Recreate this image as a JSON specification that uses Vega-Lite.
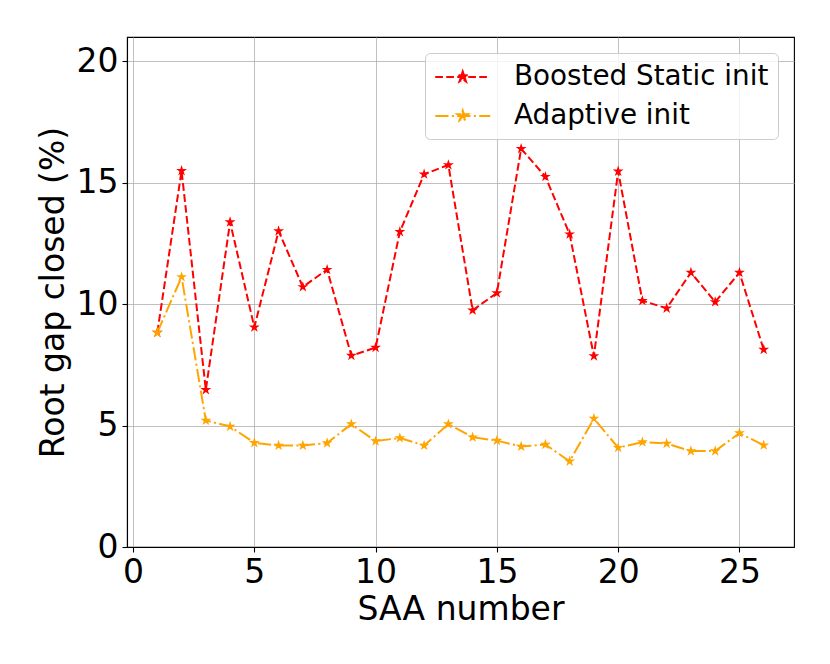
{
  "$schema": "https://vega.github.io/schema/vega-lite/v6.json",
  "width": 667,
  "height": 510,
  "autosize": {"type": "none"},
  "padding": {"left": 127, "top": 37, "right": 36, "bottom": 117},
  "background": "white",
  "data": {
    "values": [
      {"saa": 1, "gap": 8.83, "series": "Boosted Static init"},
      {"saa": 2, "gap": 15.49, "series": "Boosted Static init"},
      {"saa": 3, "gap": 6.47, "series": "Boosted Static init"},
      {"saa": 4, "gap": 13.38, "series": "Boosted Static init"},
      {"saa": 5, "gap": 9.05, "series": "Boosted Static init"},
      {"saa": 6, "gap": 13.01, "series": "Boosted Static init"},
      {"saa": 7, "gap": 10.71, "series": "Boosted Static init"},
      {"saa": 8, "gap": 11.42, "series": "Boosted Static init"},
      {"saa": 9, "gap": 7.88, "series": "Boosted Static init"},
      {"saa": 10, "gap": 8.21, "series": "Boosted Static init"},
      {"saa": 11, "gap": 12.98, "series": "Boosted Static init"},
      {"saa": 12, "gap": 15.35, "series": "Boosted Static init"},
      {"saa": 13, "gap": 15.73, "series": "Boosted Static init"},
      {"saa": 14, "gap": 9.75, "series": "Boosted Static init"},
      {"saa": 15, "gap": 10.46, "series": "Boosted Static init"},
      {"saa": 16, "gap": 16.40, "series": "Boosted Static init"},
      {"saa": 17, "gap": 15.25, "series": "Boosted Static init"},
      {"saa": 18, "gap": 12.88, "series": "Boosted Static init"},
      {"saa": 19, "gap": 7.86, "series": "Boosted Static init"},
      {"saa": 20, "gap": 15.47, "series": "Boosted Static init"},
      {"saa": 21, "gap": 10.14, "series": "Boosted Static init"},
      {"saa": 22, "gap": 9.83, "series": "Boosted Static init"},
      {"saa": 23, "gap": 11.30, "series": "Boosted Static init"},
      {"saa": 24, "gap": 10.09, "series": "Boosted Static init"},
      {"saa": 25, "gap": 11.30, "series": "Boosted Static init"},
      {"saa": 26, "gap": 8.13, "series": "Boosted Static init"},
      {"saa": 1, "gap": 8.83, "series": "Adaptive init"},
      {"saa": 2, "gap": 11.12, "series": "Adaptive init"},
      {"saa": 3, "gap": 5.21, "series": "Adaptive init"},
      {"saa": 4, "gap": 4.96, "series": "Adaptive init"},
      {"saa": 5, "gap": 4.29, "series": "Adaptive init"},
      {"saa": 6, "gap": 4.18, "series": "Adaptive init"},
      {"saa": 7, "gap": 4.18, "series": "Adaptive init"},
      {"saa": 8, "gap": 4.28, "series": "Adaptive init"},
      {"saa": 9, "gap": 5.06, "series": "Adaptive init"},
      {"saa": 10, "gap": 4.36, "series": "Adaptive init"},
      {"saa": 11, "gap": 4.49, "series": "Adaptive init"},
      {"saa": 12, "gap": 4.18, "series": "Adaptive init"},
      {"saa": 13, "gap": 5.06, "series": "Adaptive init"},
      {"saa": 14, "gap": 4.52, "series": "Adaptive init"},
      {"saa": 15, "gap": 4.38, "series": "Adaptive init"},
      {"saa": 16, "gap": 4.14, "series": "Adaptive init"},
      {"saa": 17, "gap": 4.22, "series": "Adaptive init"},
      {"saa": 18, "gap": 3.53, "series": "Adaptive init"},
      {"saa": 19, "gap": 5.29, "series": "Adaptive init"},
      {"saa": 20, "gap": 4.09, "series": "Adaptive init"},
      {"saa": 21, "gap": 4.32, "series": "Adaptive init"},
      {"saa": 22, "gap": 4.26, "series": "Adaptive init"},
      {"saa": 23, "gap": 3.95, "series": "Adaptive init"},
      {"saa": 24, "gap": 3.95, "series": "Adaptive init"},
      {"saa": 25, "gap": 4.69, "series": "Adaptive init"},
      {"saa": 26, "gap": 4.19, "series": "Adaptive init"}
    ]
  },
  "encoding": {
    "x": {
      "field": "saa",
      "type": "quantitative",
      "scale": {"domain": [-0.25, 27.25], "nice": false, "zero": false},
      "axis": {"values": [0, 5, 10, 15, 20, 25], "title": "SAA number", "titlePadding": 4}
    },
    "y": {
      "field": "gap",
      "type": "quantitative",
      "scale": {"domain": [0, 21], "nice": false},
      "axis": {"values": [0, 5, 10, 15, 20], "title": "Root gap closed (%)", "titlePadding": 6}
    },
    "color": {
      "field": "series",
      "type": "nominal",
      "scale": {"domain": ["Boosted Static init", "Adaptive init"], "range": ["#ff0000", "#ffa500"]},
      "legend": {
        "title": null,
        "orient": "top-right",
        "offset": 16,
        "padding": 9,
        "fillColor": "rgba(255,255,255,0.8)",
        "strokeColor": "#cccccc",
        "cornerRadius": 5,
        "labelFont": "DejaVu Sans",
        "labelFontSize": 27.8,
        "labelColor": "black",
        "labelLimit": 400,
        "labelOffset": 50,
        "rowPadding": 10,
        "symbolSize": 756,
        "symbolStrokeWidth": 2,
        "symbolType": "M-1,0L3,0M1,-0.4L1.0898,-0.1236L1.3804,-0.1236L1.1453,0.0472L1.2351,0.3236L1,0.1528L0.7649,0.3236L0.8547,0.0472L0.6196,-0.1236L0.9102,-0.1236Z",
        "encode": {
          "symbols": {
            "update": {
              "strokeDash": {"signal": "datum.value === 'Boosted Static init' ? [7.7, 3.3] : [13.3, 3.3, 2.1, 3.3]"},
              "stroke": {"scale": "color", "field": "value"},
              "fill": {"scale": "color", "field": "value"},
              "opacity": {"value": 1},
              "fillOpacity": {"value": 1}
            }
          }
        }
      }
    }
  },
  "layer": [
    {
      "mark": {"type": "line", "strokeWidth": 2, "opacity": 1},
      "encoding": {
        "strokeDash": {
          "field": "series",
          "type": "nominal",
          "scale": {"domain": ["Boosted Static init", "Adaptive init"], "range": [[7.7, 3.3], [13.3, 3.3, 2.1, 3.3]]},
          "legend": null
        }
      }
    },
    {
      "mark": {
        "type": "point",
        "shape": "M0,-1L0.2245,-0.309L0.951,-0.309L0.3633,0.118L0.588,0.809L0,0.382L-0.588,0.809L-0.3633,0.118L-0.951,-0.309L-0.2245,-0.309Z",
        "filled": true,
        "size": 130,
        "opacity": 1
      }
    }
  ],
  "config": {
    "font": "DejaVu Sans",
    "view": {"stroke": "black", "strokeWidth": 1.1},
    "axis": {
      "labelFont": "DejaVu Sans",
      "labelFontSize": 33,
      "labelColor": "black",
      "titleFont": "DejaVu Sans",
      "titleFontSize": 33,
      "titleFontWeight": "normal",
      "titleColor": "black",
      "domainColor": "black",
      "domainWidth": 1.1,
      "tickColor": "black",
      "tickSize": 5,
      "tickWidth": 1.1,
      "labelPadding": 4,
      "grid": true,
      "gridColor": "#b0b0b0",
      "gridWidth": 0.8,
      "labelFlush": false,
      "labelOverlap": false
    }
  }
}
